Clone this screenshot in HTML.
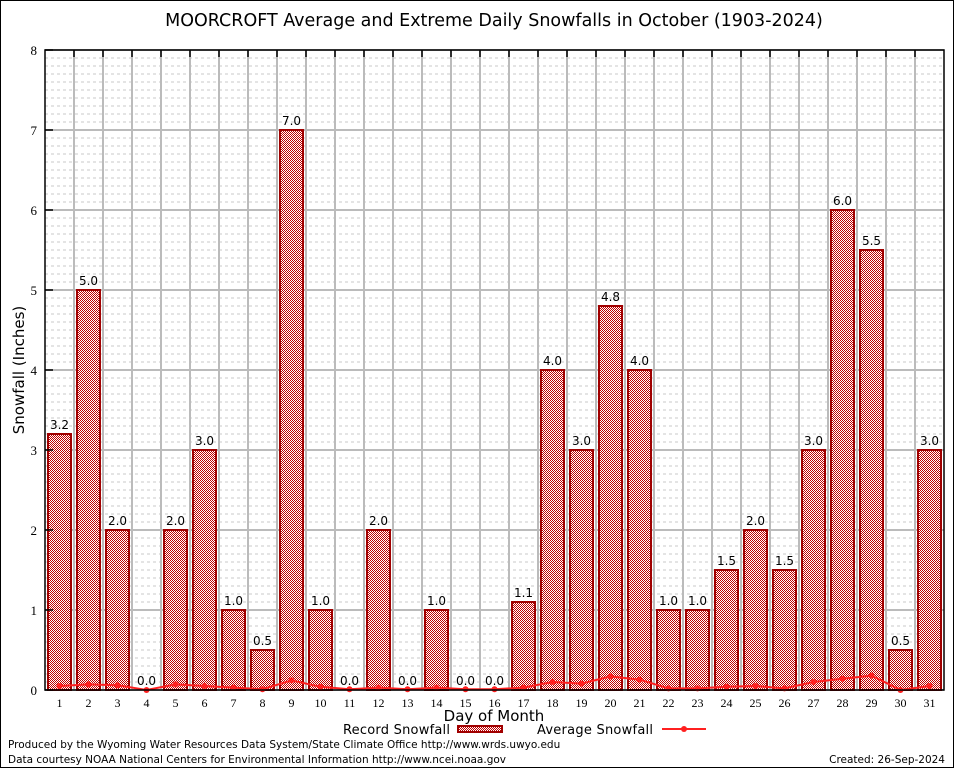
<!DOCTYPE html>
<html><head><meta charset="utf-8"><style>
body{margin:0;background:#fff}
svg{display:block;font-family:"DejaVu Sans","Liberation Sans",sans-serif}
</style></head><body>
<svg id="c" width="954" height="768">
<defs><pattern id="chk" width="2" height="2" patternUnits="userSpaceOnUse"><rect width="2" height="2" fill="#ffffff"/><rect width="1" height="1" fill="#c00000"/><rect x="1" y="1" width="1" height="1" fill="#c00000"/></pattern></defs>
<rect x="0.5" y="0.5" width="953" height="767" fill="#fff" stroke="#000"/>
<text x="494" y="26" font-size="17.5" text-anchor="middle">MOORCROFT Average and Extreme Daily Snowfalls in October (1903-2024)</text>
<g id="grid"></g><g id="bars"></g><g id="avg"></g><g id="axes"></g>
<text x="24" y="370" font-size="15" text-anchor="middle" transform="rotate(-90 24 370)">Snowfall (Inches)</text>
<text x="494" y="721" font-size="15" text-anchor="middle">Day of Month</text>
<g>
<text x="343" y="734" font-size="13" textLength="107">Record Snowfall</text>
<rect x="458" y="726" width="44" height="6" fill="url(#chk)" stroke="#a00000" stroke-width="2"/>
<text x="537" y="734" font-size="13" textLength="116">Average Snowfall</text>
<line x1="662" y1="729" x2="706" y2="729" stroke="#ff2020" stroke-width="2"/>
<circle cx="684" cy="729" r="3" fill="#ff2020"/>
</g>
<text x="8" y="748" font-size="10.5">Produced by the Wyoming Water Resources Data System/State Climate Office http://www.wrds.uwyo.edu</text>
<text x="8" y="763" font-size="10.5">Data courtesy NOAA National Centers for Environmental Information http://www.ncei.noaa.gov</text>
<text x="945" y="763" font-size="10.5" text-anchor="end">Created: 26-Sep-2024</text>
</svg>
<script>
const days=[1,2,3,4,5,6,7,8,9,10,11,12,13,14,15,16,17,18,19,20,21,22,23,24,25,26,27,28,29,30,31];
const records=[3.2,5.0,2.0,0.0,2.0,3.0,1.0,0.5,7.0,1.0,0.0,2.0,0.0,1.0,0.0,0.0,1.1,4.0,3.0,4.8,4.0,1.0,1.0,1.5,2.0,1.5,3.0,6.0,5.5,0.5,3.0];
const averages=[0.05,0.07,0.06,0.0,0.07,0.05,0.03,0.01,0.12,0.04,0.01,0.03,0.01,0.03,0.01,0.01,0.03,0.1,0.08,0.17,0.13,0.02,0.02,0.04,0.05,0.02,0.1,0.14,0.18,0.0,0.05];
const yTicks=[0,1,2,3,4,5,6,7,8];
const NS='http://www.w3.org/2000/svg';
const X0=45,DW=29,Y0=690,PY=80;
const x=d=>X0+DW*(d-0.5);
const y=v=>Y0-v*PY;
function mk(p,t,a){const e=document.createElementNS(NS,t);for(const k in a)e.setAttribute(k,a[k]);document.getElementById(p).appendChild(e);return e;}
const X1=X0+DW*days.length;
for(let i=0;i<80;i++){if(i%10===0)continue;const l=mk('grid','line',{x1:X0,x2:X1,y1:y(i/10),y2:y(i/10),stroke:'#c8c8c8','stroke-dasharray':'3,3','stroke-width':1});

}
yTicks.forEach(v=>{const l=mk('grid','line',{x1:X0,x2:X1,y1:y(v),y2:y(v),stroke:'#bbb','stroke-width':2});


const t=mk('axes','text',{x:X0-8,y:y(v)+5,'font-size':13,'text-anchor':'end','font-family':'Liberation Serif, serif'});t.textContent=v;


const tk=mk('axes','line',{x1:X0,x2:X0+8,y1:y(v),y2:y(v),stroke:'#000','stroke-width':1.5});

});
for(let i=1;i<days.length;i++){const xx=X0+DW*i;const l=mk('grid','line',{x1:xx,x2:xx,y1:y(8),y2:y(0),stroke:'#bbb','stroke-width':2});


const tk=mk('axes','line',{x1:xx,x2:xx,y1:y(8),y2:y(8)+7,stroke:'#000','stroke-width':1.5});

}
days.forEach((d,i)=>{const v=records[i];
if(v>0){const r=mk('bars','rect',{x:x(d)-11.5,y:y(v),width:23,height:v*PY,fill:'url(#chk)',stroke:'#a00000','stroke-width':2});

}
const t=mk('bars','text',{x:x(d),y:y(v)-5,'font-size':12,'text-anchor':'middle'});t.textContent=v.toFixed(1);


const xl=mk('axes','text',{x:x(d),y:y(0)+17,'font-size':12,'text-anchor':'middle','font-family':'Liberation Serif, serif'});xl.textContent=d;

});
const pl=mk('avg','polyline',{points:days.map((d,i)=>x(d)+','+y(averages[i])).join(' '),fill:'none',stroke:'#ff2020','stroke-width':2});


days.forEach((d,i)=>{const c=mk('avg','circle',{cx:x(d),cy:y(averages[i]),r:3,fill:'#ff2020'});

});
const fr=mk('axes','rect',{x:X0,y:y(8),width:X1-X0,height:8*PY,fill:'none',stroke:'#000','stroke-width':1.5});


</script>
</body></html>
